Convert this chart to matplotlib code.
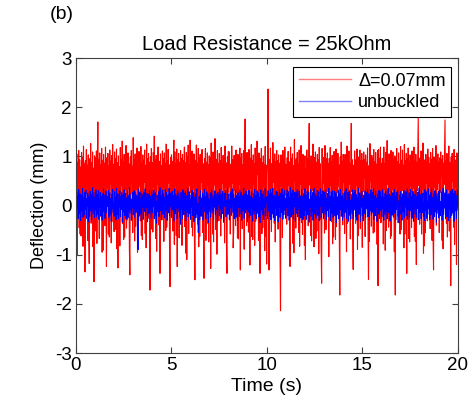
import numpy as np
import matplotlib
matplotlib.use("Agg")
import matplotlib.pyplot as plt

# deflection signals, 800 samples over 20 s
t_start = 0
t_end = 20

deflection_buckled = [
    0.62, 0.21, 1.05, -1.02, 0.88, 0.27, 1.12, -0.45, 0.93, -0.58, 0.78, -0.62, 1.08, 0.34, 0.97, -0.83, 1.21, -0.28, 0.85, -1.35,
    0.91, 0.24, 1.14, 0.38, 0.82, -0.71, 1.03, -0.49, -1.18, 0.95, 0.29, 1.26, -0.36, 0.87, 0.22, 1.09, -0.84, 0.76, -1.55, 1.01,
    0.33, 0.98, -0.52, 1.11, -0.77, 0.89, 1.70, 0.26, 0.94, -0.67, 1.07, 0.31, 0.83, -0.23, 1.16, -0.95, 0.92, -0.91, 1.04, 0.37,
    0.86, -0.41, 1.19, 0.25, -1.24, 0.97, 0.35, 1.06, -0.58, 0.81, -0.64, 1.13, 0.43, 0.90, -0.76, 1.02, 0.28, 1.24, -0.33, 0.84,
    -0.53, 1.09, 0.39, 0.95, -0.49, 1.15, -0.88, 0.87, -1.27, 1.01, 0.30, 0.79, -0.82, 1.18, 0.24, 0.93, 0.42, 1.31, -0.37, 0.88,
    -0.69, 1.04, -0.64, 0.91, 0.32, 1.22, -0.46, 0.96, -0.29, 1.07, 0.36, 0.85, -0.88, -1.41, 0.99, 0.23, 1.12, 0.45, 0.80, -0.55,
    1.38, 0.26, 0.94, -0.72, 1.05, -0.42, 0.89, 0.33, 1.17, -0.95, 0.84, 0.21, 1.10, 0.40, 0.97, -0.31, 1.20, -0.61, 0.86, -0.69,
    1.03, 0.28, 0.92, 0.47, 1.13, -0.57, 0.82, -0.86, 1.25, 0.35, 0.95, -0.26, 1.06, 0.22, 0.88, -1.72, 0.99, 0.31, 1.16, -0.48,
    0.87, -0.54, 1.08, 0.37, 1.41, 0.25, 0.93, -0.67, 1.02, -0.93, 0.84, 0.44, 1.19, -0.39, 0.90, 0.27, -1.38, 1.05, 0.33, 0.81,
    -0.29, 1.11, 0.21, 0.96, -0.73, 1.07, 0.38, 0.86, -0.51, 1.25, -0.44, 0.91, 0.29, 1.14, 0.46, 0.83, -0.92, -1.65, 0.98, 0.24,
    1.03, 0.35, 0.89, -0.52, 0.97, 1.33, -0.79, 1.09, 0.40, 0.85, -0.61, 1.15, -1.24, 0.94, 0.27, 1.06, -0.66, 0.88, -0.35, 1.12,
    0.32, 0.96, -0.81, 1.04, 0.22, 0.91, 0.47, 1.19, -0.43, 0.87, -0.97, 1.08, -1.10, 0.99, 0.30, 1.23, -0.57, 0.82, 0.41, 1.33,
    0.26, 0.93, -0.44, 1.11, -0.62, 0.98, 0.36, 1.05, -0.66, -1.51, 0.92, 0.24, 1.23, 0.39, 0.86, -0.38, 1.16, -0.84, 0.97, -0.63,
    1.04, 0.31, 0.90, 0.47, 1.14, -0.55, 0.85, -0.47, -1.48, 0.95, 0.33, 1.16, -0.71, 0.88, -0.37, 1.07, 0.42, 0.83, -0.74, 1.01,
    0.27, 0.97, -1.28, 1.27, 0.34, 0.89, -0.58, 1.09, -0.74, 0.92, 0.42, 1.36, 0.25, -0.49, 0.94, -0.99, 1.12, 0.37, 0.86, -0.31,
    1.06, 0.23, 0.91, -0.62, 1.18, 0.30, 0.84, 0.45, 1.02, -0.28, 0.96, -0.76, 1.21, 0.38, 0.87, -0.83, -1.38, 0.99, 0.26, 1.10,
    0.38, 1.09, 0.61, -0.58, 0.84, 0.22, 1.21, 0.46, 0.93, -0.86, -0.53, 1.02, 0.31, 0.95, -0.41, 1.13, 0.27, 0.88, -0.66, 1.04,
    -0.68, 0.92, 0.43, 1.17, -1.31, 0.97, 0.29, 1.06, -0.47, 0.83, 0.36, 1.12, -0.89, 0.94, 1.76, 0.27, 0.89, -0.41, 1.08, 0.33,
    0.87, -0.54, 1.14, 0.21, -1.21, 0.96, 0.36, 1.24, -0.63, 0.91, -0.69, 1.03, 0.44, 0.85, -0.81, 1.17, -0.32, 0.98, 0.28, 1.31,
    0.63, 0.92, -0.71, 1.07, 0.24, -1.38, 0.95, 0.31, 1.16, -0.57, 0.87, -0.45, 1.01, 0.39, 0.83, -0.92, 1.20, -0.62, 0.82, -1.19,
    0.66, 0.98, 2.37, 0.21, -1.31, 0.94, 0.29, 1.17, 0.58, -0.53, 0.85, 0.21, 1.28, 0.47, 0.93, -0.36, 1.05, -0.74, 0.89, 0.40,
    1.12, 0.26, 0.91, -0.48, 1.03, 0.34, 0.86, -0.92, -2.14, 1.03, 0.39, 0.88, -0.65, 1.12, -0.27, 0.95, 0.31, 1.19, 0.22, 0.84,
    0.54, -0.38, 0.97, 0.23, 1.10, 0.41, 0.89, -0.63, -1.24, 1.19, 0.25, 0.95, 0.32, 1.05, -0.77, 0.81, -0.96, 1.34, 0.49, 0.92,
    -0.46, 0.96, 0.28, 1.08, 0.37, 0.84, -0.55, 1.13, -0.83, 0.90, 0.43, 1.22, -0.34, 0.87, -0.59, 1.04, 0.33, 0.93, -0.81, 1.01,
    -1.10, 0.74, 0.35, 1.13, 0.22, 0.96, -0.41, 1.06, 1.67, 0.42, 0.89, -0.61, 1.01, -0.72, 0.91, 0.31, 1.25, 0.53, -0.84, 0.97,
    0.31, 1.09, -0.67, 0.88, -0.52, 1.04, 0.38, 0.93, -0.98, 1.18, -0.29, 0.85, 0.44, -0.87, -1.58, 1.16, 0.25, 0.98, 0.45, 0.83,
    -0.56, 1.22, 0.57, -0.49, 0.95, 0.28, 1.07, 0.37, 0.86, -1.04, 0.96, 0.26, 1.18, 0.41, 0.89, -0.33, 1.02, -0.78, 0.92, -0.64,
    1.10, 0.32, 0.87, -0.69, 1.15, -0.43, 0.94, 0.27, 1.06, 0.40, 0.83, -0.72, -1.82, 0.99, 0.21, 1.29, 0.36, 0.90, -0.39, 1.04,
    0.48, 0.91, -0.57, 1.04, 0.33, 0.88, -0.94, 1.21, -0.36, 0.97, 0.24, 1.11, 0.43, 0.86, -0.68, 1.02, 1.67, 0.29, 0.93, -0.52,
    -1.30, 0.82, 0.24, 1.11, 0.67, -0.36, 0.93, 0.41, 1.15, -0.89, 0.99, -0.61, 0.87, 0.38, 1.13, -0.47, 0.91, 0.30, 1.06, -0.85,
    0.92, 0.29, 1.09, 0.56, 0.94, -0.63, 1.03, 0.21, 0.88, 0.35, 1.17, -0.41, -1.50, 0.81, -0.73, 1.26, 0.49, 0.87, -0.42, 1.02,
    0.37, 0.95, -0.56, 1.14, -0.54, 0.89, 0.27, 1.08, 0.44, 0.84, -0.79, 1.12, -1.63, 1.14, 0.23, 0.96, 0.39, 1.19, -0.35, 0.86,
    0.22, 0.96, 0.61, -0.78, 1.19, 0.34, 0.85, -0.91, 1.08, -0.51, 0.69, 1.32, 0.43, 0.90, -0.44, 1.05, 0.28, 0.93, -0.67, 1.12,
    -0.62, 0.87, 0.33, 1.09, 0.21, 0.94, -0.94, 1.01, -1.82, 0.97, 0.37, 1.16, 0.25, 0.89, -0.35, 1.07, 0.42, 0.84, -0.58, 1.20,
    -0.49, 0.92, 0.30, 1.13, 0.47, 0.82, -0.86, 1.24, -0.58, 0.91, 0.36, 1.06, -1.38, 0.95, 0.28, 1.17, -0.67, 0.88, -0.74, 1.03,
    0.40, 0.86, -0.45, 1.11, 0.23, 0.97, 0.35, 1.19, -0.63, 0.90, -0.73, 1.04, -1.20, 0.88, 0.31, 1.13, 1.78, 0.41, 0.94, -0.38,
    0.97, 0.23, 1.11, -0.58, 0.86, 0.34, 1.27, -0.97, 0.92, -0.82, 0.93, -0.55, 1.04, 0.45, 0.87, -0.31, 1.15, 0.26, 0.98, 0.39,
    0.85, -0.47, 1.08, 0.29, 0.94, -0.71, 1.16, -0.62, -1.31, 0.99, 0.38, 0.83, 0.21, 1.22, -0.40, 0.91, 0.32, 1.05, 0.46, 0.88,
    -0.55, 0.97, 0.27, 1.09, 0.58, 0.94, -0.71, 1.02, -0.88, 0.86, 0.43, 1.13, 1.74, 0.24, 0.90, -0.36, 1.06, -0.64, 0.95, 0.33,
    1.21, -0.52, 0.88, 0.31, -1.63, 0.99, 0.26, 1.06, 0.49, 0.82, -0.44, 1.14, -0.79, 0.93, 0.38, 0.85, -1.20, 1.07, 0.28, 0.73,
]

deflection_unbuckled = [
    0.12, -0.21, 0.28, -0.05, 0.19, -0.27, 0.33, 0.02, -0.16, 0.24, -0.31, 0.09, 0.21, -0.12, 0.35, -0.24, 0.06, 0.17, -0.19, 0.27,
    -0.08, 0.31, -0.26, 0.14, -0.02, 0.25, -0.33, 0.18, 0.04, -0.22, 0.29, -0.11, 0.22, -0.29, 0.11, 0.36, -0.17, 0.03, 0.26, -0.25,
    0.16, -0.09, 0.32, -0.23, 0.07, 0.23, -0.18, 0.30, -0.28, 0.13, -0.04, 0.27, -0.21, 0.19, 0.01, -0.30, 0.24, -0.13, 0.34, -0.07,
    0.21, -0.26, 0.10, 0.29, -0.15, 0.15, 0.18, -0.02, 0.31, -0.24, 0.08, 0.26, -0.19, 0.14, -0.32, 0.22, -0.06, 0.33, -0.14, 0.05,
    -0.22, 0.28, -0.10, 0.17, -0.29, 0.35, 0.03, -0.18, 0.24, -0.27, 0.12, -0.03, 0.30, -0.23, 0.19, -0.08, 0.26, -0.34, 0.09, 0.22,
    -0.13, 0.32, -0.20, 0.06, 0.25, -0.28, 0.15, -0.01, 0.29, -0.25, 0.20, -0.11, 0.37, -0.16, 0.04, 0.23, -0.30, 0.13, -0.05, 0.27,
    -0.19, 0.11, 0.30, -0.24, 0.02, 0.26, -0.14, 0.21, 0.18, 0.17, -0.90, 0.33, -0.22, 0.08, 0.28, -0.17, 0.14, -0.31, 0.24, -0.03,
    0.19, -0.28, 0.27, -0.12, 0.07, 0.34, -0.21, 0.16, -0.04, 0.25, -0.33, 0.10, 0.22, -0.16, 0.31, -0.09, 0.18, -0.26, 0.05, 0.29,
    -0.15, 0.23, -0.02, 0.32, -0.27, 0.13, 0.26, -0.20, 0.09, -0.36, 0.21, 0.01, -0.13, 0.28, -0.23, 0.15, 0.36, -0.10, 0.20, -0.29,
    0.08, 0.31, -0.18, 0.24, -0.06, 0.17, -0.25, 0.33, -0.11, 0.12, 0.27, -0.30, 0.03, 0.22, -0.15, 0.35, -0.21, 0.10, -0.02, 0.26,
    -0.24, 0.15, 0.29, -0.09, 0.20, -0.32, 0.07, 0.34, -0.17, 0.23, -0.05, 0.18, -0.27, 0.30, -0.12, 0.05, 0.25, -0.22, 0.14, -0.38,
    0.27, -0.07, 0.16, -0.26, 0.32, 0.02, -0.19, 0.24, -0.10, 0.29, -0.31, 0.11, 0.20, -0.14, 0.35, -0.23, 0.06, 0.28, -0.16, 0.13,
    -0.28, 0.22, -0.04, 0.31, -0.20, 0.09, 0.26, -0.33, 0.17, -0.08, 0.24, -0.25, 0.12, 0.34, -0.18, 0.04, -0.55, -0.11, 0.19, -0.29,
    0.10, 0.30, -0.22, 0.15, -0.01, 0.25, -0.30, 0.20, -0.13, 0.33, -0.06, 0.18, -0.27, 0.08, 0.28, -0.17, 0.23, -0.35, 0.14, 0.02,
    -0.12, 0.26, -0.24, 0.11, 0.32, -0.15, 0.05, 0.21, -0.28, 0.16, -0.03, 0.30, -0.19, 0.24, -0.09, 0.13, -0.32, 0.27, 0.00, 0.19,
    -0.21, 0.33, -0.07, 0.22, -0.26, 0.14, 0.29, -0.16, 0.08, -0.34, 0.25, -0.02, 0.18, 0.31, -0.23, 0.10, -0.12, 0.36, -0.18, 0.06,
    0.24, -0.29, 0.12, -0.05, 0.28, -0.20, 0.17, 0.34, -0.14, 0.03, 0.23, -0.27, 0.15, -0.09, 0.30, -0.24, 0.07, 0.21, -0.31, 0.26,
    -0.04, 0.18, -0.22, 0.32, 0.09, -0.17, 0.27, -0.30, 0.13, 0.20, -0.11, 0.35, -0.26, 0.05, 0.24, -0.15, 0.29, -0.08, 0.16, -0.33,
    0.22, -0.13, 0.31, -0.25, 0.04, 0.19, -0.20, 0.28, -0.06, 0.14, -0.32, 0.25, 0.01, -0.18, 0.33, -0.10, 0.20, -0.27, 0.11, 0.30,
    -0.16, 0.07, 0.26, -0.23, 0.17, -0.35, 0.12, 0.32, -0.09, 0.23, -0.19, 0.05, 0.29, -0.28, 0.15, -0.04, 0.34, -0.21, 0.09, 0.18,
    0.18, -0.27, 0.30, -0.11, 0.24, -0.22, 0.13, 0.33, -0.29, 0.08, 0.26, -0.17, 0.35, -0.25, 0.04, 0.21, -0.31, 0.16, -0.06, 0.29,
    -0.20, 0.12, 0.27, -0.33, 0.19, -0.03, 0.31, -0.24, 0.10, 0.25, -0.14, 0.34, -0.28, 0.07, 0.22, -0.19, 0.30, -0.09, 0.15, -0.26,
    0.23, -0.05, 0.32, -0.21, 0.11, 0.28, -0.30, 0.17, -0.12, 0.36, -0.24, 0.06, 0.25, -0.18, 0.31, -0.27, 0.14, -0.02, 0.27, -0.32,
    0.09, 0.26, -0.16, 0.33, -0.23, 0.14, -0.07, 0.29, -0.30, 0.20, 0.03, -0.25, 0.32, -0.13, 0.18, -0.29, 0.24, 0.06, -0.21, 0.34,
    -0.10, 0.21, -0.28, 0.15, 0.30, -0.19, 0.08, 0.27, -0.34, 0.12, -0.04, 0.33, -0.22, 0.19, -0.11, 0.26, -0.30, 0.14, 0.35, -0.17,
    0.04, 0.24, -0.26, 0.18, -0.08, 0.31, -0.20, 0.12, 0.28, -0.31, 0.16, -0.02, 0.34, -0.25, 0.09, 0.23, -0.15, 0.30, -0.27, 0.11,
    0.27, -0.18, 0.06, 0.32, -0.29, 0.15, -0.10, 0.25, -0.23, 0.35, -0.06, 0.19, -0.31, 0.13, 0.28, -0.16, 0.02, 0.30, -0.24, 0.17,
    -0.13, 0.29, -0.21, 0.10, 0.26, -0.35, 0.18, 0.03, -0.19, 0.31, -0.27, 0.14, 0.24, -0.09, 0.33, -0.22, 0.07, 0.20, -0.30, 0.25,
    0.01, -0.24, 0.28, -0.14, 0.19, 0.34, -0.26, 0.09, -0.05, 0.27, -0.32, 0.16, 0.30, -0.20, 0.11, -0.28, 0.23, 0.05, -0.17, 0.32,
    -0.27, 0.15, 0.25, -0.09, 0.31, -0.22, 0.06, 0.22, -0.30, 0.17, -0.12, 0.35, -0.18, 0.10, 0.26, -0.33, 0.19, -0.03, 0.29, -0.21,
    0.14, -0.31, 0.21, 0.05, -0.16, 0.30, -0.25, 0.12, 0.27, -0.07, 0.33, -0.23, 0.08, 0.24, -0.29, 0.16, -0.11, 0.32, -0.19, 0.03,
    0.26, -0.14, 0.34, -0.28, 0.10, 0.20, -0.21, 0.29, -0.04, 0.15, -0.33, 0.23, 0.07, -0.17, 0.31, -0.26, 0.12, 0.28, -0.10, 0.18,
    -0.23, 0.32, -0.06, 0.17, -0.30, 0.25, 0.02, -0.19, 0.30, -0.12, 0.21, -0.27, 0.14, 0.35, -0.15, 0.06, 0.24, -0.32, 0.19, -0.01,
    0.29, -0.20, 0.11, 0.26, -0.24, 0.04, 0.33, -0.16, 0.18, -0.29, 0.27, -0.08, 0.13, 0.30, -0.22, 0.09, -0.35, 0.21, 0.02, 0.28,
    -0.18, 0.16, -0.30, 0.24, 0.07, -0.13, 0.31, -0.25, 0.20, -0.03, 0.28, -0.21, 0.10, 0.34, -0.28, 0.15, -0.09, 0.26, -0.23, 0.12,
    0.33, -0.11, 0.19, -0.26, 0.08, 0.29, -0.32, 0.14, 0.23, -0.17, 0.05, 0.31, -0.24, 0.18, -0.06, 0.27, -0.29, 0.11, 0.36, -0.14,
    0.02, 0.22, -0.27, 0.30, -0.15, 0.13, 0.25, -0.22, 0.07, -0.31, 0.32, -0.10, 0.17, 0.28, -0.26, 0.09, -0.18, 0.34, -0.07, 0.21,
    -0.29, 0.10, 0.26, -0.19, 0.33, -0.04, 0.16, -0.28, 0.23, 0.06, -0.22, 0.30, -0.13, 0.19, -0.34, 0.25, 0.03, -0.16, 0.29, -0.25,
    0.15, 0.31, -0.21, 0.08, -0.12, 0.27, -0.30, 0.20, 0.35, -0.18, 0.12, -0.05, 0.26, -0.27, 0.17, 0.32, -0.23, 0.04, 0.22, -0.31,
    0.24, -0.08, 0.18, -0.25, 0.29, 0.01, -0.20, 0.33, -0.15, 0.13, 0.25, -0.32, 0.07, 0.30, -0.11, 0.20, -0.26, 0.14, 0.31, -0.09,
]

x_ticks = [0, 5, 10, 15, 20]
y_ticks = [-3, -2, -1, 0, 1, 2, 3]

time = np.linspace(t_start, t_end, len(deflection_buckled))

plt.rcParams['font.family'] = ['Liberation Sans', 'DejaVu Sans']
plt.rcParams['axes.unicode_minus'] = False

fig = plt.figure(figsize=(4.77, 4.03), dpi=100)
ax = fig.add_axes([0.159, 0.124, 0.801, 0.732])

ax.plot(time, deflection_buckled, color='red', lw=0.8, label='Δ=0.07mm')
ax.plot(time, deflection_unbuckled, color='blue', lw=0.7, label='unbuckled')

ax.set_xlim(0, 20)
ax.set_ylim(-3, 3)
ax.set_xticks(x_ticks)
ax.set_yticks(y_ticks)
ax.tick_params(direction='in', top=True, right=True, length=4, width=0.8,
               color='#404040', labelsize=13.5, pad=3)
for s in ax.spines.values():
    s.set_color('#404040')
    s.set_linewidth(0.8)

ax.set_xlabel('Time (s)', fontsize=14, labelpad=3)
ax.set_ylabel('Deflection (mm)', fontsize=13, labelpad=5)
ax.set_title('Load Resistance = 25kOhm', fontsize=14.5, pad=6)
fig.text(0.105, 0.963, '(b)', fontsize=14, ha='left', va='center')

leg = ax.legend(loc='upper right', bbox_to_anchor=(0.982, 0.969), borderaxespad=0,
                fancybox=False, framealpha=1, edgecolor='black', fontsize=13,
                handlelength=2.9, handletextpad=0.4, borderpad=0.3, labelspacing=0.25)
leg.get_frame().set_linewidth(0.8)
for h in leg.get_lines():
    h.set_alpha(0.5)
    h.set_linewidth(1.0)

fig.savefig('out.png', dpi=100)
